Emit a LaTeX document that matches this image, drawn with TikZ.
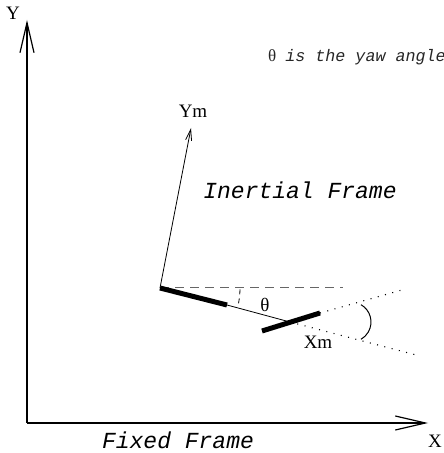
\documentclass[tikz,border=0pt]{standalone}
\usepackage{fontspec}
\setmainfont{Liberation Serif}
\newfontfamily\monofont{Liberation Mono}
\usetikzlibrary{arrows.meta}
\tikzset{
  axis/.style={line width=1.2pt,-{Straight Barb[length=30pt,width=14pt,line width=1.2pt]}},
  marrow/.style={line width=0.8pt,-{Straight Barb[length=11pt,width=6pt]}},
  bar/.style={line width=5pt},
  thin/.style={line width=0.8pt},
  dashline/.style={line width=1pt,draw=black!60,dash pattern=on 9pt off 6pt},
  dotline/.style={line width=1.1pt,dash pattern=on 1pt off 6.5pt},
  serif/.style={font=\fontsize{19}{19}\selectfont,inner sep=0pt},
  frametext/.style={font=\fontsize{23}{23}\selectfont\monofont\itshape,inner sep=0pt},
  yawtext/.style={font=\fontsize{16.7}{16.7}\selectfont\monofont\itshape,inner sep=0pt,text=black!85}
}
\begin{document}
\begin{tikzpicture}[x=1pt,y=1pt]
\useasboundingbox (0,0) rectangle (444,453);
% fixed frame axes
\coordinate (O) at (27,30);
\coordinate (Ytip) at (27,433);
\coordinate (Xtip) at (428,30);
\draw[axis] (O) -- (Ytip);
\draw[axis] (O) -- (Xtip);
\node[serif] (ylab) at (13,440) {Y};
\node[serif] (xlab) at (435,12) {X};
\node[frametext] (fixed) at (178,13) {Fixed Frame};
\node[frametext] (inertial) at (300,263) {Inertial Frame};
\node[yawtext,anchor=west] (yaw) at (268,396) {{\fontsize{17}{17}\selectfont\rmfamily\upshape θ}\hspace{9pt}is the yaw angle};
% moving frame
\coordinate (A) at (160,165);
\coordinate (B) at (227,148);
\coordinate (C) at (290,131);
\coordinate (Cend) at (420,97);
\coordinate (E) at (262,122);
\coordinate (D) at (320,140);
\coordinate (Dend) at (402,163);
\coordinate (H) at (343,165);
\coordinate (Ymtip) at (191,325);
\draw[dashline] (A) -- (H);
\draw[marrow] (A) -- (Ymtip);
\node[serif] (ym) at (193,342) {Ym};
\draw[thin] (B) -- (C);
\draw[dotline] (C) -- (Cend);
\draw[dotline] (D) -- (Dend);
\draw[bar] (A) -- (B);
\draw[bar] (E) -- (D);
\draw[line width=0.8pt,dash pattern=on 5pt off 4pt] (A) ++(-1:80) arc (-1:-13:80);
\draw[line width=1pt] (351,131) ++(60:20) arc (60:-60:20);
\node[serif] (theta) at (265,148) {θ};
\node[serif] (xm) at (318,111) {Xm};
\end{tikzpicture}
\end{document}
